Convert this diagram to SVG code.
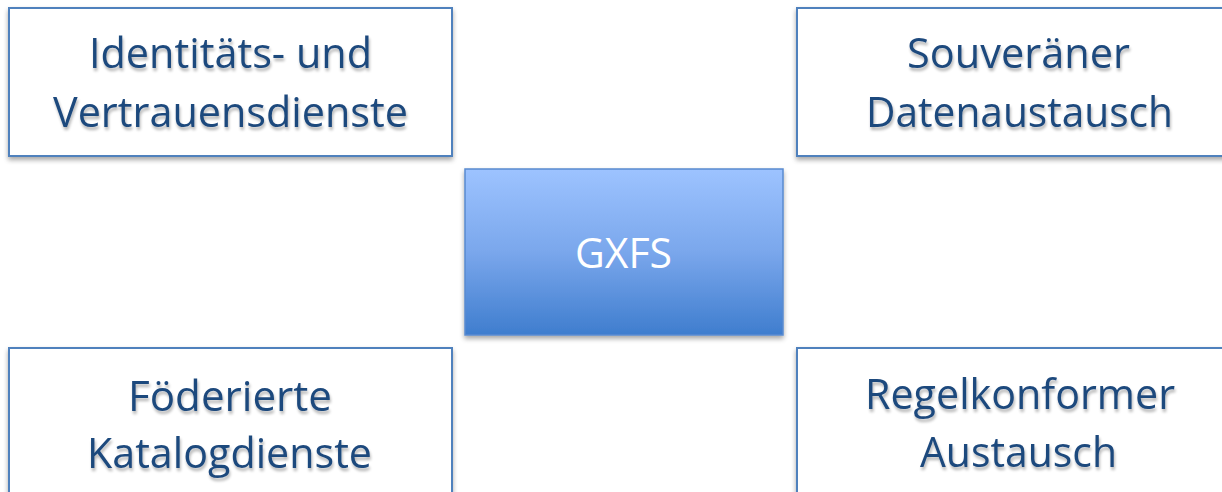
<svg xmlns="http://www.w3.org/2000/svg" width="1222" height="492" viewBox="0 0 1222 492">
<defs>
<linearGradient id="gx" x1="0" y1="0" x2="0" y2="1">
<stop offset="0" stop-color="#9DC3FF"/>
<stop offset="0.5" stop-color="#7AA7EC"/>
<stop offset="1" stop-color="#3F7DCE"/>
</linearGradient>
<filter id="bs" x="-10%" y="-10%" width="120%" height="130%">
<feGaussianBlur in="SourceAlpha" stdDeviation="2.5"/>
<feOffset dx="0" dy="3" result="b"/>
<feComponentTransfer><feFuncA type="linear" slope="0.35"/></feComponentTransfer>
<feMerge><feMergeNode/><feMergeNode in="SourceGraphic"/></feMerge>
</filter>
<filter id="ts" x="-10%" y="-20%" width="120%" height="150%">
<feGaussianBlur in="SourceAlpha" stdDeviation="1.5"/>
<feOffset dx="1" dy="3"/>
<feComponentTransfer><feFuncA type="linear" slope="0.3"/></feComponentTransfer>
<feMerge><feMergeNode/><feMergeNode in="SourceGraphic"/></feMerge>
</filter>
</defs>
<style>
.box{fill:#FFFFFF;stroke:#4F81BD;stroke-width:2}
.t{font-family:"Open Sans","Liberation Sans",sans-serif;font-size:42px;fill:#1F497D;text-anchor:middle}
.c{font-family:"Open Sans","Liberation Sans",sans-serif;font-size:42px;fill:#FFFFFF;text-anchor:middle}
</style>
<rect width="1222" height="492" fill="#FFFFFF"/>
<g id="connectors"></g>
<g id="n-identity">
<rect class="box" x="9" y="8" width="443" height="148" filter="url(#bs)"/>
<g filter="url(#ts)">
<text class="t" x="230.5" y="68" textLength="283" lengthAdjust="spacingAndGlyphs">Identitäts- und</text>
<text class="t" x="230.5" y="127" textLength="355" lengthAdjust="spacingAndGlyphs">Vertrauensdienste</text>
</g>
</g>
<g id="n-souveraen">
<rect class="box" x="797" y="8" width="443" height="148" filter="url(#bs)"/>
<g filter="url(#ts)">
<text class="t" x="1018.5" y="68" textLength="223" lengthAdjust="spacingAndGlyphs">Souveräner</text>
<text class="t" x="1019.5" y="127" textLength="307" lengthAdjust="spacingAndGlyphs">Datenaustausch</text>
</g>
</g>
<g id="n-gxfs">
<rect x="465" y="169" width="318" height="166" fill="url(#gx)" stroke="#5A8BD0" stroke-width="1.5" filter="url(#bs)"/>
<text class="c" x="623.5" y="268" textLength="97" lengthAdjust="spacingAndGlyphs">GXFS</text>
</g>
<g id="n-foederiert">
<rect class="box" x="9" y="348" width="443" height="148" filter="url(#bs)"/>
<g filter="url(#ts)">
<text class="t" x="230" y="411" textLength="204" lengthAdjust="spacingAndGlyphs">Föderierte</text>
<text class="t" x="229.5" y="468" textLength="285" lengthAdjust="spacingAndGlyphs">Katalogdienste</text>
</g>
</g>
<g id="n-regelkonform">
<rect class="box" x="797" y="348" width="443" height="148" filter="url(#bs)"/>
<g filter="url(#ts)">
<text class="t" x="1020" y="409" textLength="310" lengthAdjust="spacingAndGlyphs">Regelkonformer</text>
<text class="t" x="1018.5" y="467" textLength="197" lengthAdjust="spacingAndGlyphs">Austausch</text>
</g>
</g>
</svg>
